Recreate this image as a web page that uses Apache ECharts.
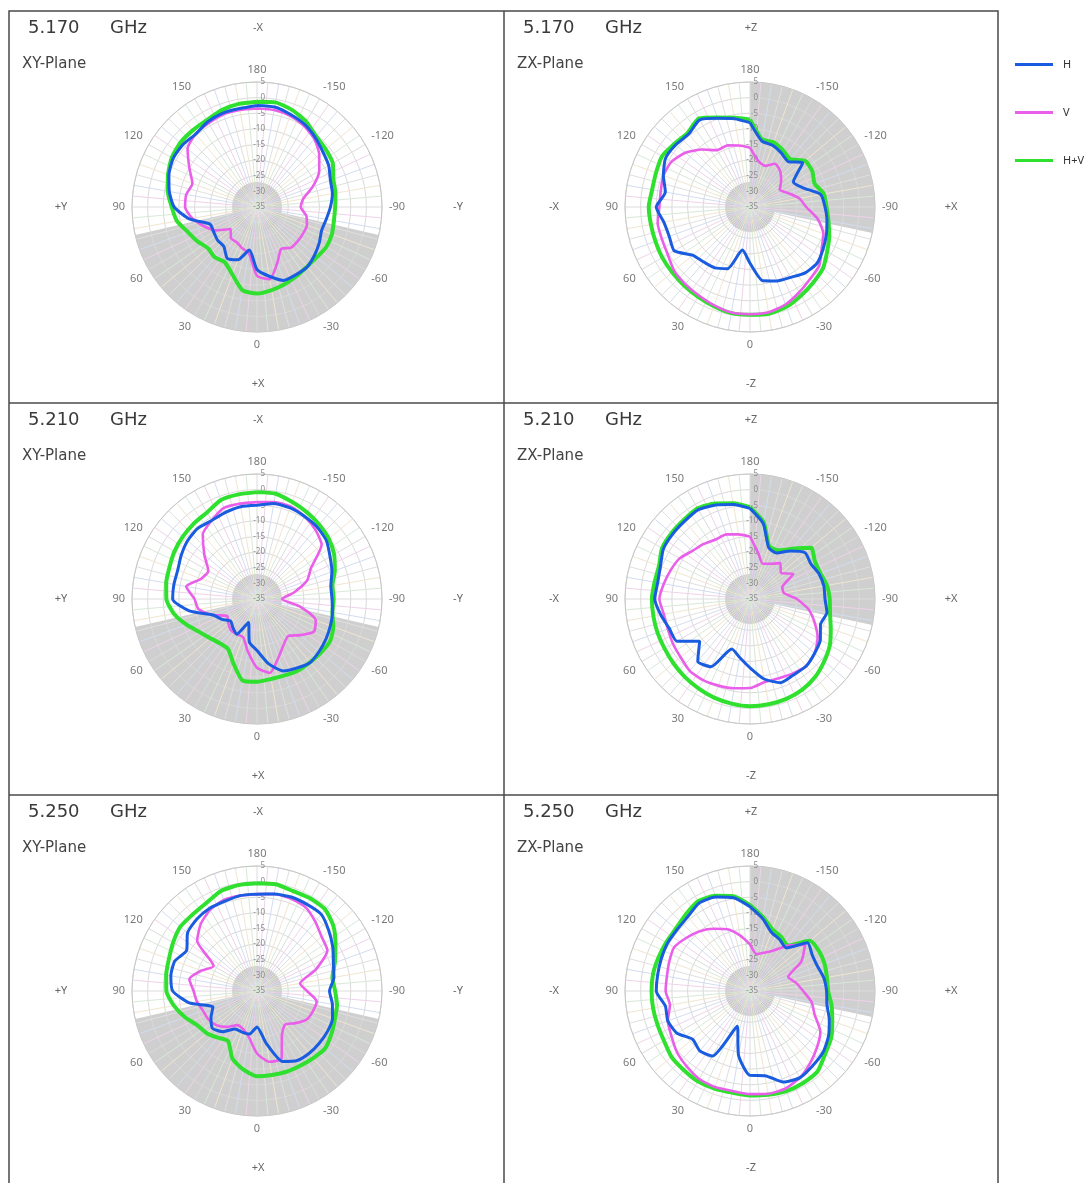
<!DOCTYPE html>
<html><head><meta charset="utf-8">
<script src="https://cdn.jsdelivr.net/npm/echarts@6/dist/echarts.min.js"></script>
<style>html,body{margin:0;padding:0;background:#fff;}#c{width:1089px;height:1183px;}</style>
</head><body><div id="c"></div>
<script>
// Angles in the chart's own convention (0 = bottom, 180 = top, +90 = left, -90 = right)
const angles = [-180,-170,-160,-150,-140,-130,-120,-110,-100,-90,-80,-70,-60,-50,-40,-30,-20,-10,0,10,20,30,40,50,60,70,80,90,100,110,120,130,140,150,160,170];
const frequencies = ['5.170','5.210','5.250'];
const planes = ['XY-Plane','ZX-Plane'];
const dirLabelsXY = ['-X','+Y','-Y','+X']; // top, left, right, bottom
const dirLabelsZX = ['+Z','-X','+X','-Z'];
const seriesNames = ['H','V','H+V'];
const shadeXY = [-77, 77];   // grey sector through 0
const shadeZX = [-180, -78]; // grey sector from top to right
const radiusMin = -35, radiusMax = 5, radiusStep = 5;

// 5.170 GHz XY
const H_5170_XY  = [-2.5,-2.5,-3.5,-4.5,-6,-7.5,-8.5,-10,-10.5,-11.5,-12.5,-13,-12,-11,-10,-10,-10,-12.5,-15,-21,-17,-16,-18.5,-18.5,-19,-19,-13,-8.5,-6.5,-5,-4,-4,-4.5,-3.5,-3,-3];
const V_5170_XY  = [-3.5,-3.5,-4,-5,-6.5,-9,-12,-16,-20,-21,-19,-18,-18,-18,-18,-19.5,-16,-11.5,-13,-20,-21,-22,-22,-24,-20,-17,-14,-12,-12,-13,-10,-6,-4.5,-4,-3.5,-3.5];
const HV_5170_XY = [-1.3,-1,-2,-3.5,-5.5,-6.3,-7,-9,-9.5,-10,-10,-9.5,-9.4,-10,-10.1,-9.5,-8.8,-8,-7.3,-8,-12,-14.5,-14,-14.5,-13,-11.5,-9,-7.7,-6,-4.7,-3.5,-3,-3,-2.9,-2,-1.5];
// 5.170 GHz ZX
const H_5170_ZX  = [-8,-13.5,-14,-15,-16,-13,-19,-17,-12,-11,-10,-9,-8,-7,-7.5,-9,-9.8,-11,-17,-21,-14,-12.5,-12,-11,-7,-7.5,-7,-5,-7.5,-5.5,-3.8,-4,-4.5,-2.8,-4.8,-6.3];
const V_5170_ZX  = [-16,-20,-21,-19,-20,-22,-24,-22,-19,-17,-13,-10,-8.5,-6,-5,-3.5,-1.8,-0.8,-0.7,-0.7,-1.5,-2.3,-2.8,-3.3,-4.6,-5,-5,-6,-6,-5.5,-6,-8,-11,-14,-14,-15];
const HV_5170_ZX = [-7,-13,-13,-14,-15,-12,-12,-13,-11,-10.5,-9.5,-8,-6.5,-4.5,-3.5,-2.3,-1,-0.3,-0.5,-0.5,-1.2,-1.8,-2.2,-2.5,-2.6,-2.8,-2.8,-2.6,-3.2,-3,-2.5,-3.5,-4,-2.3,-4.5,-6];
// 5.210 GHz XY
const H_5210_XY  = [-5,-4,-4,-4.5,-5,-6,-8,-9.5,-11,-11,-10.5,-10,-9.5,-9,-8.5,-9.5,-10.5,-14,-18.5,-21,-27,-22,-23,-24,-22,-20,-13,-8,-8,-8,-7,-6,-5.5,-6,-5.5,-5];
const V_5210_XY  = [-4,-3.5,-3.5,-4.5,-6,-8,-15,-18,-23,-27,-21,-15,-14,-17,-19.5,-18,-15,-11,-13,-18,-22,-22,-22,-23,-24,-20,-16,-15,-12,-16,-17,-13,-8,-6,-4,-4];
const HV_5210_XY = [-0.8,-0.8,-2,-3,-4,-5,-6.5,-8.5,-10.5,-10.5,-10.5,-9,-8,-8.3,-8.6,-8.6,-9,-9,-8.5,-8.5,-13,-16.5,-16.5,-15.5,-13.8,-11,-8,-6,-5.5,-5.2,-4.5,-4,-3.5,-3,-1.3,-1];
// 5.210 GHz ZX
const H_5210_ZX  = [-6,-10.5,-17.5,-18,-15,-12,-12.5,-11.5,-11,-11,-10,-11,-9,-8,-7,-7,-6.5,-9,-13,-16,-18,-10,-9,-14,-8,-7.5,-6,-4.5,-5,-4.5,-3,-2.7,-2.5,-2,-3,-4.3];
const V_5210_ZX  = [-15,-20,-23,-22,-20,-22,-19,-24,-24,-20,-16,-13,-10,-8,-7,-7.5,-8,-8,-6.5,-6,-5.5,-5,-5,-6,-6.5,-7,-7,-6,-7,-8,-9,-11,-12,-13,-13,-14];
const HV_5210_ZX = [-5.6,-10,-17,-17,-14,-9.5,-11,-11,-10,-9.5,-9,-7.5,-5.5,-4,-2.5,-1.5,-1,-0.8,-0.7,-1,-1.4,-2,-2.5,-3,-3.4,-3.5,-3.6,-3.6,-4,-4,-2.5,-2.2,-2,-1.5,-2.5,-3.9];
// 5.250 GHz XY
const H_5250_XY  = [-4,-3.5,-3,-3,-3,-5,-7,-9,-10,-11.8,-10.5,-9.3,-9,-9,-9,-9.3,-11,-18,-23.5,-21,-21,-21,-18,-16.4,-18,-20,-13,-8,-7,-7,-9,-6,-5,-4.5,-4.5,-4];
const V_5250_XY  = [-4,-3.5,-3.5,-4,-6,-8,-9,-15,-21,-19,-15.6,-16,-16.7,-19,-21,-19,-12,-12,-15,-20,-22,-22.4,-20,-18,-17,-16.6,-15.5,-14.7,-13,-16,-19,-10,-7,-5,-4,-4];
const HV_5250_XY = [-0.5,-0.3,-1,-0.8,-1,-3,-6,-8.5,-10.5,-10,-9,-8.5,-7.5,-6.5,-7,-7.4,-7.5,-7.7,-7.7,-9.5,-12,-16.5,-15.5,-14,-13,-10.5,-8,-6,-5.5,-5,-4,-3,-3,-2.5,-1,-0.6];
// 5.250 GHz ZX
const H_5250_ZX  = [-8,-11.5,-15,-16,-17,-11,-12,-12,-11,-10.5,-10,-8,-6,-4.5,-3.8,-3,-4,-7.5,-8,-14,-23,-11,-10,-11,-8,-7,-7.5,-5,-5,-4.8,-4.5,-4.5,-4,-2.5,-3,-4.7];
const V_5250_ZX  = [-20,-23,-22,-20,-16,-12,-16,-22,-20,-18,-15,-13,-9,-7,-5,-3,-1.8,-1.6,-2,-2.5,-2.3,-2.5,-3.5,-4.5,-6,-7,-9,-8,-8,-7.5,-7,-8.5,-10,-12,-14,-17];
const HV_5250_ZX = [-7.5,-11,-14,-15,-16,-10,-9.5,-9.6,-10,-10,-8.5,-7,-5,-3.6,-1.4,-1,-0.9,-1.3,-1.6,-2,-1.8,-1.6,-2,-2.2,-3.2,-3.5,-3.5,-3.5,-3.5,-3.8,-4,-4,-3,-1.8,-2.6,-4.2];

const panels = [
  {f:0, p:0, H:H_5170_XY, V:V_5170_XY, HV:HV_5170_XY},
  {f:0, p:1, H:H_5170_ZX, V:V_5170_ZX, HV:HV_5170_ZX},
  {f:1, p:0, H:H_5210_XY, V:V_5210_XY, HV:HV_5210_XY},
  {f:1, p:1, H:H_5210_ZX, V:V_5210_ZX, HV:HV_5210_ZX},
  {f:2, p:0, H:H_5250_XY, V:V_5250_XY, HV:HV_5250_XY},
  {f:2, p:1, H:H_5250_ZX, V:V_5250_ZX, HV:HV_5250_ZX}
];

// layout
const colX = [257, 750];
const rowY = [207, 599, 991];
const R = 125;
const panelLeft = [9, 504];
const rowTop = [11, 403, 795];
const colors = {H:'#1a5ce0', V:'#ea5fea', HV:'#2fe02f'};
const FONT = '"DejaVu Sans", "Noto Sans", sans-serif';
const AXFONT = '"Noto Sans", "DejaVu Sans", sans-serif';

function toAxis(a){ return a + 180; } // top = 0, clockwise
function points(vals){
  const pts = angles.map((a,k)=>[vals[k], toAxis(a)]);
  pts.push([vals[0], toAxis(angles[0]) + 360]);
  return pts;
}

const polar = [], angleAxis = [], radiusAxis = [], series = [], graphic = [];
panels.forEach((pn, i) => {
  const cx = colX[pn.p], cy = rowY[pn.f];
  polar.push({center:[cx, cy], radius:R});
  angleAxis.push({
    polarIndex:i, type:'value', min:0, max:360, interval:5, startAngle:90, clockwise:true, z:1,
    axisLine:{show:true, lineStyle:{color:'#c8c8c8', width:1}},
    axisTick:{show:false},
    axisLabel:{
      margin:7, fontSize:11, color:'#7a7a7a', fontFamily:AXFONT,
      formatter:function(v){
        if (v % 30 !== 0 || v >= 360) return '';
        let a = v + 180; if (a > 180) a -= 360;
        return String(a);
      }
    },
    splitLine:{show:true, lineStyle:{width:1, color:['#dcdcdc','#efd3ea','#d3ddf1','#e0e0e0','#f1e6cf','#d8e9d8']}}
  });
  radiusAxis.push({
    polarIndex:i, type:'value', min:radiusMin, max:radiusMax, interval:radiusStep, z:1,
    axisLine:{show:false}, axisTick:{show:false},
    axisLabel:{fontSize:8, color:'#8a8a8a', margin:-8, fontFamily:AXFONT},
    splitLine:{show:true, lineStyle:{color:'#dadada', width:1}}
  });
  const sh = pn.p === 0 ? shadeXY : shadeZX;
  series.push({
    type:'custom', coordinateSystem:'polar', polarIndex:i, silent:true, z:0,
    data:[[radiusMax, toAxis(sh[0]), toAxis(sh[1])]],
    renderItem:function(params, api){
      const cs = params.coordSys;
      const c = [cs.cx, cs.cy];
      const p1 = api.coord([api.value(0), api.value(1)]);
      const p2 = api.coord([api.value(0), api.value(2)]);
      const pc = api.coord([-27, 0]);
      const r = Math.hypot(p1[0]-c[0], p1[1]-c[1]);
      const rc = Math.hypot(pc[0]-c[0], pc[1]-c[1]);
      return {type:'group', children:[
        {type:'sector', shape:{cx:c[0], cy:c[1], r0:0, r:r,
          startAngle:Math.atan2(p1[1]-c[1], p1[0]-c[0]),
          endAngle:Math.atan2(p2[1]-c[1], p2[0]-c[0]), clockwise:true},
          style:{fill:'#cfcfcf'}},
        {type:'circle', shape:{cx:c[0], cy:c[1], r:rc}, style:{fill:'#c9c9c9'}}
      ]};
    }
  });
  const mk = (name, key, w) => ({
    type:'line', name:name, coordinateSystem:'polar', polarIndex:i,
    data:points(pn[key]), symbol:'none', smooth:0.2, z:3,
    lineStyle:{color:colors[key], width:w}, itemStyle:{color:colors[key]}
  });
  series.push(mk('H+V','HV',4));
  series.push(mk('V','V',2.6));
  series.push(mk('H','H',3));

  // panel texts
  const px = panelLeft[pn.p], py = rowTop[pn.f];
  graphic.push({type:'text', x:px+19, y:py+17, style:{text:frequencies[pn.f], fontSize:18, fill:'#3a3a3a', fontFamily:FONT, align:'left', verticalAlign:'middle'}});
  graphic.push({type:'text', x:px+101, y:py+17, style:{text:'GHz', fontSize:18, fill:'#3a3a3a', fontFamily:FONT, align:'left', verticalAlign:'middle'}});
  graphic.push({type:'text', x:px+13, y:py+53, style:{text:planes[pn.p], fontSize:15, fill:'#444', fontFamily:FONT, align:'left', verticalAlign:'middle'}});
  const dl = pn.p === 0 ? dirLabelsXY : dirLabelsZX;
  const dpos = [[cx+1, cy-179], [cx-196, cy], [cx+201, cy], [cx+1, cy+177]];
  dl.forEach((t,k)=>{
    graphic.push({type:'text', x:dpos[k][0], y:dpos[k][1], style:{text:t, fontSize:11, fill:'#666', fontFamily:AXFONT, align:'center', verticalAlign:'middle'}});
  });
});

// frame
graphic.push({type:'rect', shape:{x:9, y:11, width:989, height:1185}, style:{fill:'none', stroke:'#4a4a4a', lineWidth:1.5}, z:10});
graphic.push({type:'line', shape:{x1:9, y1:403, x2:998, y2:403}, style:{stroke:'#4a4a4a', lineWidth:1.5}, z:10});
graphic.push({type:'line', shape:{x1:9, y1:795, x2:998, y2:795}, style:{stroke:'#4a4a4a', lineWidth:1.5}, z:10});
graphic.push({type:'line', shape:{x1:504, y1:11, x2:504, y2:1183}, style:{stroke:'#4a4a4a', lineWidth:1.5}, z:10});

const chart = echarts.init(document.getElementById('c'), null, {renderer:'canvas'});
chart.setOption({
  backgroundColor:'#ffffff',
  animation:false,
  polar:polar, angleAxis:angleAxis, radiusAxis:radiusAxis,
  legend:{data:seriesNames, orient:'vertical', left:1010, top:54, icon:'rect', itemWidth:38, itemHeight:3, itemGap:37,
    textStyle:{fontSize:11, color:'#333', fontFamily:AXFONT, padding:[0,0,0,5]}},
  graphic:graphic,
  series:series
});
</script></body></html>
